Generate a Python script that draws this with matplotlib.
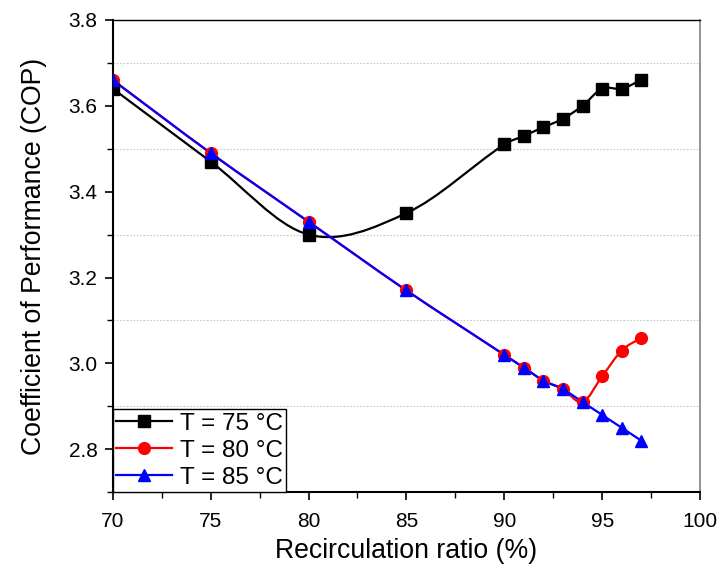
import numpy as np
import matplotlib
matplotlib.use("Agg")
import matplotlib.pyplot as plt
from matplotlib.path import Path
from matplotlib.patches import PathPatch
from matplotlib.ticker import MultipleLocator

plt.rcParams["font.family"] = ["Liberation Sans", "DejaVu Sans"]

ratio = [70, 75, 80, 85, 90, 91, 92, 93, 94, 95, 96, 97]
cop_75 = [3.64, 3.47, 3.30, 3.35, 3.51, 3.53, 3.55, 3.57, 3.60, 3.64, 3.64, 3.66]
cop_80 = [3.66, 3.49, 3.33, 3.17, 3.02, 2.99, 2.96, 2.94, 2.91, 2.97, 3.03, 3.06]
cop_85 = [3.66, 3.49, 3.33, 3.17, 3.02, 2.99, 2.96, 2.94, 2.91, 2.88, 2.85, 2.82]
labels = ["T = 75 °C", "T = 80 °C", "T = 85 °C"]


def smooth_path(x, y):
    """Bezier path through the points (Catmull-Rom style tangents)"""
    x = np.asarray(x, float)
    y = np.asarray(y, float)
    verts = [(x[0], y[0])]
    codes = [Path.MOVETO]
    n = len(x)
    for i in range(n - 1):
        i0 = max(i - 1, 0)
        i3 = min(i + 2, n - 1)
        h = x[i + 1] - x[i]
        # tangents as slopes
        m1 = (y[i + 1] - y[i0]) / (x[i + 1] - x[i0])
        m2 = (y[i3] - y[i]) / (x[i3] - x[i])
        verts += [(x[i] + h / 3, y[i] + m1 * h / 3),
                  (x[i + 1] - h / 3, y[i + 1] - m2 * h / 3),
                  (x[i + 1], y[i + 1])]
        codes += [Path.CURVE4] * 3
    return Path(verts, codes)


fig = plt.figure(figsize=(7.18, 5.69), dpi=100)
ax = fig.add_axes([0.157, 0.135, 0.818, 0.830])

series = [(cop_75, "black", "s", 8), (cop_80, "red", "o", 8.5), (cop_85, "blue", "^", 8.5)]
handles = []
for (vals, col, mk, ms), lab in zip(series, labels):
    ax.add_patch(PathPatch(smooth_path(ratio, vals), facecolor="none",
                           edgecolor=col, lw=1.6, zorder=3))
    ax.plot(ratio, vals, linestyle="none", marker=mk, color=col, ms=ms, zorder=4)
    h, = ax.plot([], [], color=col, marker=mk, ms=ms, lw=1.6, label=lab)
    handles.append(h)

ax.set_xlim(70, 100)
ax.set_ylim(2.7, 3.8)
ax.xaxis.set_major_locator(MultipleLocator(5))
ax.xaxis.set_minor_locator(MultipleLocator(2.5))
ax.yaxis.set_major_locator(MultipleLocator(0.2))
ax.yaxis.set_minor_locator(MultipleLocator(0.1))
ax.yaxis.set_major_formatter(plt.FormatStrFormatter("%.1f"))

# dotted grid only at the minor (odd) values
for yv in [2.9, 3.1, 3.3, 3.5, 3.7]:
    ax.axhline(yv, color="#c8c8c8", lw=0.8, ls=(0, (1.5, 1.5)), zorder=1)

ax.tick_params(which="major", direction="out", length=6, width=1.2, labelsize=15)
ax.tick_params(axis="x", which="major", pad=8)
ax.tick_params(axis="y", which="major", pad=5)
ax.tick_params(which="minor", direction="out", length=4, width=1.0)
for s in ["left", "bottom"]:
    ax.spines[s].set_linewidth(1.5)
ax.spines["top"].set_linewidth(1.0)
ax.spines["right"].set_color("#808080")
ax.spines["right"].set_linewidth(1.2)

ax.set_xlabel("Recirculation ratio (%)", fontsize=19.2, labelpad=5)
ax.set_ylabel("Coefficient of Performance (COP)", fontsize=19.2, labelpad=15)

leg = ax.legend(handles=handles, loc="lower left", fontsize=17.5, frameon=True,
                fancybox=False, edgecolor="black", framealpha=1,
                borderaxespad=0, borderpad=0.15, handlelength=2.3,
                handletextpad=0.3, labelspacing=0.2)
leg.get_frame().set_linewidth(1.0)

fig.savefig("out.png", dpi=100)
